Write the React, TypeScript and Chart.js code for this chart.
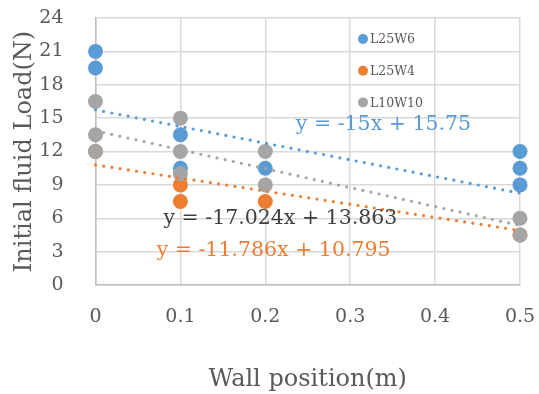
import React, { useEffect, useRef } from "react";
import { Chart, registerables } from "chart.js";

Chart.register(...registerables);

// ---- data ----
const seriesNames = ["L25W6", "L25W4", "L10W10"];
const seriesColors = ["#5B9BD5", "#ED7D31", "#A5A5A5"];

const l25w6X = [0, 0, 0.1, 0.1, 0.2, 0.5, 0.5, 0.5];
const l25w6Y = [21, 19.5, 13.5, 10.5, 10.5, 12, 10.5, 9];

const l25w4X = [0, 0.1, 0.1, 0.2, 0.5];
const l25w4Y = [12, 9, 7.5, 7.5, 4.5];

const l10w10X = [0, 0, 0, 0.1, 0.1, 0.1, 0.2, 0.2, 0.5, 0.5];
const l10w10Y = [16.5, 13.5, 12, 15, 12, 10, 12, 9, 6, 4.5];

// trendlines: y = slope * x + intercept
const trendSlopes = [-15, -11.786, -17.024];
const trendIntercepts = [15.75, 10.795, 13.863];
const trendLabels = ["y = -15x + 15.75", "y = -11.786x + 10.795", "y = -17.024x + 13.863"];
const trendLabelColors = ["#5B9BD5", "#ED7D31", "#404040"];

const xTicks = [0, 0.1, 0.2, 0.3, 0.4, 0.5];
const yTicks = [0, 3, 6, 9, 12, 15, 18, 21, 24];

const xTitle = "Wall position(m)";
const yTitle = "Initial fluid Load(N)";

const FONT = "'DejaVu Serif', 'Liberation Serif', serif";

const zip = (xs: number[], ys: number[]) => xs.map((x, i) => ({ x, y: ys[i] }));

export default function App() {
  const ref = useRef<HTMLCanvasElement>(null);

  useEffect(() => {
    const canvas = ref.current!;
    const pointSets = [zip(l25w6X, l25w6Y), zip(l25w4X, l25w4Y), zip(l10w10X, l10w10Y)];
    const xMin = xTicks[0];
    const xMax = xTicks[xTicks.length - 1];

    const scatterDatasets = pointSets.map((pts, i) => ({
      type: "scatter" as const,
      label: seriesNames[i],
      data: pts,
      backgroundColor: seriesColors[i],
      borderColor: seriesColors[i],
      borderWidth: 0,
      pointRadius: 7.5,
      order: 10 - i,
      clip: false as any,
    }));

    const trendDatasets = trendSlopes.map((m, i) => ({
      type: "line" as const,
      label: seriesNames[i] + " trend",
      data: [
        { x: xMin, y: trendIntercepts[i] + m * xMin },
        { x: xMax, y: trendIntercepts[i] + m * xMax },
      ],
      borderColor: seriesColors[i],
      borderWidth: 3.2,
      borderDash: [0, 8.3],
      borderCapStyle: "round" as const,
      pointRadius: 0,
      fill: false,
      order: 3 - i,
      clip: false as any,
    }));

    // positions of equation labels (data units)
    const labelAnchors = [
      { x: 0.236, y: 14.4 },
      { x: 0.072, y: 3.05 },
      { x: 0.08, y: 5.95 },
    ];

    const overlay = {
      id: "overlay",
      afterDatasetsDraw(chart: any) {
        const ctx = chart.ctx;
        const xs = chart.scales.x;
        const ys = chart.scales.y;
        ctx.save();
        // equations
        ctx.font = `20.5px ${FONT}`;
        ctx.textAlign = "left";
        ctx.textBaseline = "middle";
        trendLabels.forEach((t, i) => {
          ctx.fillStyle = trendLabelColors[i];
          ctx.fillText(t, xs.getPixelForValue(labelAnchors[i].x), ys.getPixelForValue(labelAnchors[i].y));
        });
        // legend
        const area = chart.chartArea;
        const lx = area.left + 267.5;
        const ly0 = area.top + 21;
        const gap = 31.7;
        ctx.font = `12.5px ${FONT}`;
        seriesNames.forEach((n, i) => {
          const y = ly0 + i * gap;
          ctx.fillStyle = seriesColors[i];
          ctx.beginPath();
          ctx.arc(lx, y, 5, 0, Math.PI * 2);
          ctx.fill();
          ctx.fillStyle = "#595959";
          ctx.fillText(n, lx + 7, y + 1);
        });
        ctx.restore();
      },
    };

    const chart = new Chart(canvas, {
      data: { datasets: [...trendDatasets, ...scatterDatasets] as any },
      options: {
        responsive: false,
        animation: false,
        layout: { padding: { top: 18, right: 19, left: 0, bottom: 0 } },
        plugins: {
          legend: { display: false },
          tooltip: { enabled: false },
        },
        scales: {
          x: {
            type: "linear",
            min: xMin,
            max: xMax,
            afterBuildTicks: (s: any) => {
              s.ticks = xTicks.map((v) => ({ value: v }));
            },
            afterFit: (s: any) => {
              s.height = 109;
              s.paddingLeft = 0;
              s.paddingRight = 0;
              s.paddingTop = 0;
              s.paddingBottom = 0;
            },
            ticks: {
              padding: 21,
              color: "#595959",
              font: { family: FONT, size: 19 },
              callback: (v: any) => String(Number(Number(v).toFixed(1))),
            },
            grid: { color: "#d9d9d9", lineWidth: 1.5, drawTicks: false },
            border: { color: "#bfbfbf", width: 1.5 },
            title: {
              display: true,
              text: xTitle,
              color: "#595959",
              font: { family: FONT, size: 24 },
              padding: { top: 0, bottom: 0 },
            },
          },
          y: {
            type: "linear",
            min: yTicks[0],
            max: yTicks[yTicks.length - 1],
            afterBuildTicks: (s: any) => {
              s.ticks = yTicks.map((v) => ({ value: v }));
            },
            afterFit: (s: any) => {
              s.width = 95.5;
              s.paddingLeft = 0;
              s.paddingRight = 0;
              s.paddingTop = 0;
              s.paddingBottom = 0;
            },
            ticks: {
              padding: 32,
              color: "#595959",
              font: { family: FONT, size: 19 },
            },
            grid: { color: "#d9d9d9", lineWidth: 1.5, drawTicks: false },
            border: { color: "#bfbfbf", width: 1.5 },
            title: {
              display: true,
              text: yTitle,
              color: "#595959",
              font: { family: FONT, size: 24 },
              padding: { top: 10, bottom: 0 },
            },
          },
        },
      },
      plugins: [overlay],
    } as any);

    return () => chart.destroy();
  }, []);

  return (
    <div style={{ position: "absolute", left: 0, top: 0, width: 539, height: 394, background: "#fff" }}>
      <canvas ref={ref} width={539} height={394} style={{ width: 539, height: 394, display: "block" }} />
    </div>
  );
}
